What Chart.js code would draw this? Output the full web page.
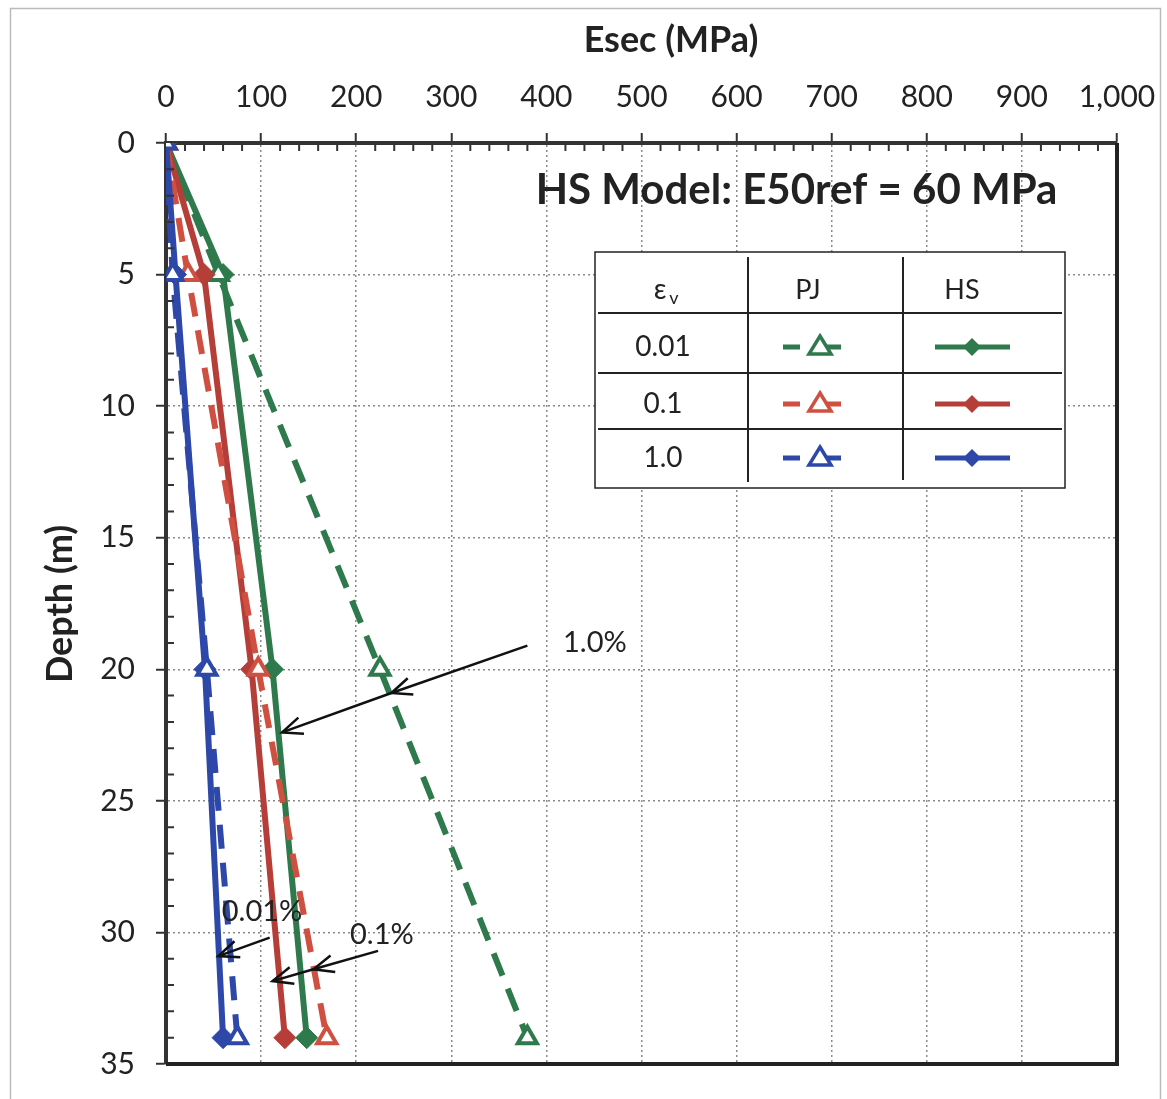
<!DOCTYPE html>
<html>
<head>
<meta charset="utf-8">
<title>Esec vs Depth - HS Model</title>
<script src="https://cdn.jsdelivr.net/npm/chart.js"></script>
<style>
    body { margin: 0; background: #fff; }
    #wrap { width: 1167px; height: 1099px; position: relative; }
</style>
</head>
<body>
<div id="wrap"><canvas id="esecChart"></canvas></div>
<script>
    // depth (m) of the points and Esec (MPa)
    var depths = [0, 5, 20, 34];
    var pj001 = [0, 55, 225, 380];
    var hs001 = [0, 60, 112, 148];
    var pj01 = [0, 23, 97, 169];
    var hs01 = [0, 40, 90, 125];
    var pj10 = [0, 7, 43, 75];
    var hs10 = [0, 10, 41, 60];

    var xTickValues = [0, 100, 200, 300, 400, 500, 600, 700, 800, 900, 1000];
    var yTickValues = [0, 5, 10, 15, 20, 25, 30, 35];

    // legend rows
    var legendRows = ['0.01', '0.1', '1.0'];

    // arrow notes (in data units: MPa, m)
    var noteLabels = ['1.0%', '0.01%', '0.1%'];
    var noteX = [451, 101, 227];
    var noteY = [19.0, 29.2, 30.1];
    var arrowPaths = [
        [[380, 19.1], [237, 20.9], [122, 22.4]],
        [[109, 30.2], [55, 30.9]],
        [[223, 30.7], [155, 31.4], [112, 31.85]]
    ];

    var green = '#2E7A4C';
    var redDash = '#CF4F40';
    var redLine = '#B63E38';
    var blue = '#2D48A8';
    var fontFam = 'Lato, "Open Sans", sans-serif';

    function pts(vals) {
        return depths.map(function (d, i) { return { x: vals[i], y: d }; });
    }

    function pjSet(label, vals, color) {
        return {
            label: label, data: pts(vals), borderColor: color, borderWidth: 6,
            borderDash: [24, 14], pointStyle: 'triangle', pointRadius: 11,
            pointBackgroundColor: '#fff', pointBorderColor: color, pointBorderWidth: 4
        };
    }
    function hsSet(label, vals, color) {
        return {
            label: label, data: pts(vals), borderColor: color, borderWidth: 6,
            pointStyle: 'rectRot', pointRadius: 11,
            pointBackgroundColor: color, pointBorderColor: color, pointBorderWidth: 1
        };
    }

    function drawArrow(ctx, path, xs, ys) {
        var p = path.map(function (q) { return [xs.getPixelForValue(q[0]), ys.getPixelForValue(q[1])]; });
        ctx.beginPath();
        ctx.moveTo(p[0][0], p[0][1]);
        for (var i = 1; i < p.length; i++) ctx.lineTo(p[i][0], p[i][1]);
        ctx.stroke();
        var ang = Math.atan2(p[1][1] - p[0][1], p[1][0] - p[0][0]);
        for (var j = 1; j < p.length; j++) {
            var hx = p[j][0], hy = p[j][1];
            ctx.beginPath();
            ctx.moveTo(hx - 22 * Math.cos(ang - 0.4), hy - 22 * Math.sin(ang - 0.4));
            ctx.lineTo(hx, hy);
            ctx.lineTo(hx - 22 * Math.cos(ang + 0.4), hy - 22 * Math.sin(ang + 0.4));
            ctx.stroke();
        }
    }

    var extras = {
        id: 'extras',
        afterDraw: function (chart) {
            var ctx = chart.ctx, ca = chart.chartArea;
            var xs = chart.scales.x, ys = chart.scales.y;
            ctx.save();

            // outer frame
            ctx.strokeStyle = '#bbb';
            ctx.lineWidth = 1.5;
            ctx.strokeRect(10.5, 8.5, 1150, 1100);

            // axis titles
            ctx.fillStyle = '#222';
            ctx.textAlign = 'center';
            ctx.textBaseline = 'middle';
            ctx.font = 'bold 36px ' + fontFam;
            ctx.fillText('Esec (MPa)', 671, 40);
            ctx.save();
            ctx.translate(60, 604);
            ctx.rotate(-Math.PI / 2);
            ctx.fillText('Depth (m)', 0, 0);
            ctx.restore();

            // minor ticks pointing inward
            ctx.strokeStyle = '#333';
            ctx.lineWidth = 2;
            ctx.beginPath();
            for (var v = 20; v < 1000; v += 20) {
                if (v % 100 === 0) continue;
                var px = xs.getPixelForValue(v);
                ctx.moveTo(px, ca.top);
                ctx.lineTo(px, ca.top + 8);
            }
            for (var d = 1; d < 35; d++) {
                if (d % 5 === 0) continue;
                var py = ys.getPixelForValue(d);
                ctx.moveTo(ca.left, py);
                ctx.lineTo(ca.left + 8, py);
            }
            ctx.stroke();

            // right and bottom frame of the plot
            ctx.strokeStyle = '#222';
            ctx.lineWidth = 4;
            ctx.beginPath();
            ctx.moveTo(ca.right, ca.top);
            ctx.lineTo(ca.right, ca.bottom);
            ctx.lineTo(ca.left, ca.bottom);
            ctx.stroke();

            // model title
            ctx.fillStyle = '#222';
            ctx.font = 'bold 42px ' + fontFam;
            ctx.fillText('HS Model: E50ref = 60 MPa', xs.getPixelForValue(663), ys.getPixelForValue(1.8));

            // arrows and notes
            ctx.lineWidth = 2.5;
            ctx.strokeStyle = '#111';
            arrowPaths.forEach(function (path) { drawArrow(ctx, path, xs, ys); });
            ctx.font = '29px ' + fontFam;
            ctx.fillStyle = '#222';
            noteLabels.forEach(function (t, i) {
                ctx.fillText(t, xs.getPixelForValue(noteX[i]), ys.getPixelForValue(noteY[i]));
            });

            // legend table
            var L = 595, R = 1065, T = 252, B = 488;
            var c1 = 748, c2 = 903;
            var rowLines = [313, 373, 429];
            var rowMid = [347, 404, 458];
            ctx.fillStyle = '#fff';
            ctx.fillRect(L, T, R - L, B - T);
            ctx.strokeStyle = '#222';
            ctx.lineWidth = 1.5;
            ctx.strokeRect(L, T, R - L, B - T);
            ctx.lineWidth = 2;
            ctx.beginPath();
            ctx.moveTo(c1, T + 5); ctx.lineTo(c1, B - 6);
            ctx.moveTo(c2, T + 5); ctx.lineTo(c2, B - 8);
            rowLines.forEach(function (y) { ctx.moveTo(L + 3, y); ctx.lineTo(R - 3, y); });
            ctx.stroke();

            ctx.fillStyle = '#222';
            ctx.font = '28px ' + fontFam;
            ctx.fillText('\u03B5', 660, 290);
            ctx.font = '18px ' + fontFam;
            ctx.fillText('v', 674, 298);
            ctx.font = '27px ' + fontFam;
            ctx.fillText('PJ', 808, 290);
            ctx.fillText('HS', 962, 290);

            var rowColors = [[green, green], [redDash, redLine], [blue, blue]];
            legendRows.forEach(function (t, i) {
                var y = rowMid[i];
                ctx.fillStyle = '#222';
                ctx.font = '28px ' + fontFam;
                ctx.fillText(t, 663, y);
                // PJ sample
                var pc = rowColors[i][0];
                ctx.strokeStyle = pc;
                ctx.lineWidth = 5;
                ctx.beginPath();
                ctx.moveTo(783, y); ctx.lineTo(800, y);
                ctx.moveTo(824, y); ctx.lineTo(841, y);
                ctx.stroke();
                ctx.lineWidth = 3.5;
                ctx.fillStyle = '#fff';
                ctx.beginPath();
                ctx.moveTo(820, y - 11); ctx.lineTo(831, y + 7); ctx.lineTo(809, y + 7); ctx.closePath();
                ctx.fill(); ctx.stroke();
                // HS sample
                var hc = rowColors[i][1];
                ctx.strokeStyle = hc;
                ctx.fillStyle = hc;
                ctx.lineWidth = 5;
                ctx.beginPath();
                ctx.moveTo(935, y); ctx.lineTo(1010, y);
                ctx.stroke();
                ctx.beginPath();
                ctx.moveTo(972, y - 9); ctx.lineTo(981, y); ctx.lineTo(972, y + 9); ctx.lineTo(963, y); ctx.closePath();
                ctx.fill();
            });

            ctx.restore();
        }
    };

    var ctx = document.getElementById('esecChart').getContext('2d');
    var chart = new Chart(ctx, {
        type: 'line',
        data: {
            datasets: [
                pjSet('PJ 1.0', pj10, blue),
                hsSet('HS 1.0', hs10, blue),
                pjSet('PJ 0.1', pj01, redDash),
                hsSet('HS 0.1', hs01, redLine),
                pjSet('PJ 0.01', pj001, green),
                hsSet('HS 0.01', hs001, green)
            ]
        },
        options: {
            responsive: true,
            maintainAspectRatio: false,
            animation: false,
            layout: { padding: { top: 0, left: 0, right: 50, bottom: 35 } },
            plugins: { legend: { display: false }, tooltip: { enabled: false } },
            elements: { line: { tension: 0 } },
            scales: {
                x: {
                    type: 'linear',
                    position: 'top',
                    min: 0,
                    max: 1000,
                    afterBuildTicks: function (scale) {
                        scale.ticks = xTickValues.map(function (v) { return { value: v }; });
                    },
                    afterFit: function (scale) {
                        scale.height = 143;
                        scale.paddingLeft = 0;
                        scale.paddingRight = 0;
                    },
                    ticks: { color: '#222', font: { family: fontFam, size: 30 }, padding: 18, maxRotation: 0 },
                    grid: { color: '#8a8a8a', lineWidth: 1.5, tickColor: '#333', tickLength: 10, tickWidth: 2 },
                    border: { color: '#333', width: 4, dash: [2, 3] }
                },
                y: {
                    type: 'linear',
                    reverse: true,
                    min: 0,
                    max: 35,
                    afterBuildTicks: function (scale) {
                        scale.ticks = yTickValues.map(function (v) { return { value: v }; });
                    },
                    afterFit: function (scale) {
                        scale.width = 166;
                        scale.paddingTop = 0;
                        scale.paddingBottom = 0;
                    },
                    ticks: { color: '#222', font: { family: fontFam, size: 30 }, padding: 21 },
                    grid: { color: '#8a8a8a', lineWidth: 1.5, tickColor: '#333', tickLength: 10, tickWidth: 2 },
                    border: { color: '#333', width: 4, dash: [2, 3] }
                }
            }
        },
        plugins: [extras]
    });
</script>
</body>
</html>
